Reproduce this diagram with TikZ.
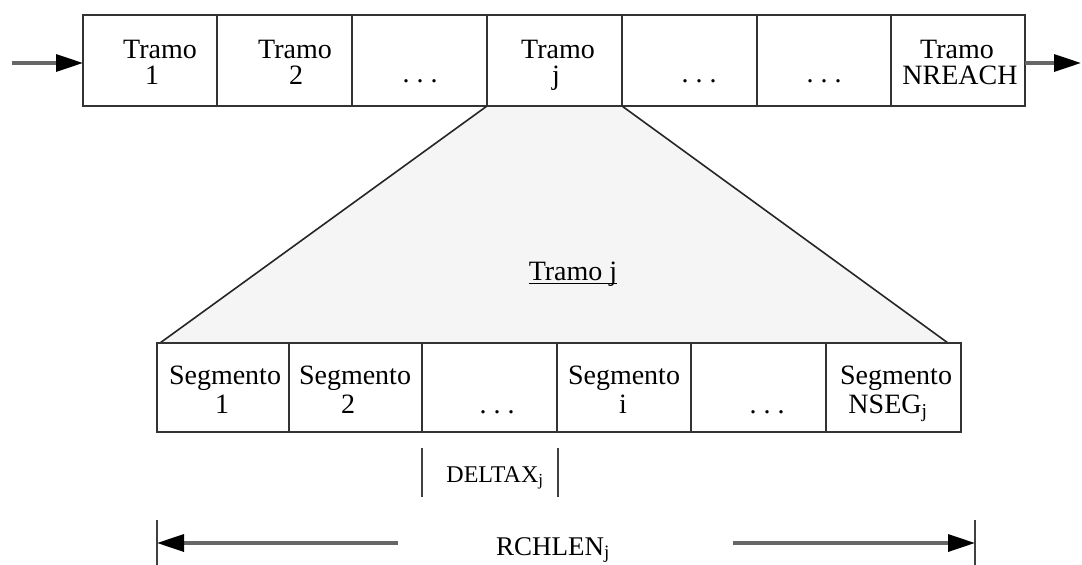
\documentclass[tikz,border=0pt]{standalone}
\usepackage{fontspec}
\setmainfont{Liberation Serif}
\usetikzlibrary{arrows.meta}
\tikzset{
  cell/.style={draw=black!80, line width=2pt, fill=white, minimum height=#1, inner sep=0pt, outer sep=0pt},
  lbl/.style={anchor=base, inner sep=0pt, font=\fontsize{28}{30}\selectfont},
  small/.style={anchor=base, inner sep=0pt, font=\fontsize{24}{26}\selectfont},
  mid/.style={anchor=base, inner sep=0pt, font=\fontsize{27}{29}\selectfont},
  flow/.style={draw=black!60, line width=3.4pt, -{Triangle[length=27pt,width=17pt,color=black]}},
  bar/.style={draw=black!75, line width=2.2pt},
  zoomfill/.style={fill=black!4},
  zoomedge/.style={draw=black!85, line width=1.6pt}
}
\begin{document}
\begin{tikzpicture}[x=1pt,y=-1pt]
\useasboundingbox (0,0) rectangle (1082,565);

% expanded view of reach j
\coordinate (zl) at (160,343);
\coordinate (zr) at (948,343);
\path[zoomfill] (487,106) -- (zl) -- (zr) -- (622,106) -- cycle;

% reaches
\foreach \n/\a/\b in {1/83/217, 2/217/352, 3/352/487, 4/487/622, 5/622/757, 6/757/891, 7/891/1025}
  \node[cell=91pt, minimum width={\b-\a}] (t\n) at ({(\a+\b)/2},60.5) {};

\draw[zoomedge] (t4.south west) -- (zl);
\draw[zoomedge] (t4.south east) -- (zr);

% segments
\foreach \n/\a/\b in {1/157/289, 2/289/422, 3/422/557, 4/557/691, 5/691/826, 6/826/961}
  \node[cell=89pt, minimum width={\b-\a}] (s\n) at ({(\a+\b)/2},387.5) {};

% inflow and outflow
\coordinate (in) at (12,63);
\coordinate (out) at (1081,63);
\draw[flow] (in) -- (in -| t1.west);
\draw[flow] (out -| t7.east) -- (out);

% reach labels
\node[lbl] (t1a) at (160,58) {Tramo};
\node[lbl] (t1b) at (152,84) {1};
\node[lbl] (t2a) at (295,58) {Tramo};
\node[lbl] (t2b) at (296,84) {2};
\node[lbl] (t3a) at (420,82) {.\ .\ .};
\node[lbl] (t4a) at (558,58) {Tramo};
\node[lbl] (t4b) at (556,84) {j};
\node[lbl] (t5a) at (699,82) {.\ .\ .};
\node[lbl] (t6a) at (824,82) {.\ .\ .};
\node[lbl] (t7a) at (957,58) {Tramo};
\node[lbl] (t7b) at (960,84) {NREACH};

% title of the expanded reach
\node[lbl] (tj) at (573,280) {Tramo j};
\draw[black, line width=1.5pt] ([yshift=-3.5pt]tj.base west) -- ([yshift=-3.5pt]tj.base east);

% segment labels
\node[lbl] (s1a) at (225,384) {Segmento};
\node[lbl] (s1b) at (222,413) {1};
\node[lbl] (s2a) at (355,384) {Segmento};
\node[lbl] (s2b) at (348,413) {2};
\node[lbl] (s3a) at (497,413) {.\ .\ .};
\node[lbl] (s4a) at (624,384) {Segmento};
\node[lbl] (s4b) at (623,413) {i};
\node[lbl] (s5a) at (767,413) {.\ .\ .};
\node[lbl] (s6a) at (896,384) {Segmento};
\node[lbl] (s6b) at (888,413) {NSEG\textsubscript{j}};

% segment length
\coordinate (d1t) at (422,448); \coordinate (d1b) at (422,497);
\coordinate (d2t) at (558,448); \coordinate (d2b) at (558,497);
\draw[bar] (d1t) -- (d1b);
\draw[bar] (d2t) -- (d2b);
\node[small] (dx) at (495,482) {DELTAX\textsubscript{j}};

% reach length
\coordinate (r1t) at (157,520); \coordinate (r1b) at (157,565);
\coordinate (r2t) at (975,520); \coordinate (r2b) at (975,565);
\draw[bar] (r1t) -- (r1b);
\draw[bar] (r2t) -- (r2b);
\node[mid] (rl) at (553,555) {RCHLEN\textsubscript{j}};
\coordinate (al) at (398,543);
\coordinate (ar) at (733,543);
\draw[flow] (al) -- (al -| r1t);
\draw[flow] (ar) -- (ar -| r2t);
\end{tikzpicture}
\end{document}
